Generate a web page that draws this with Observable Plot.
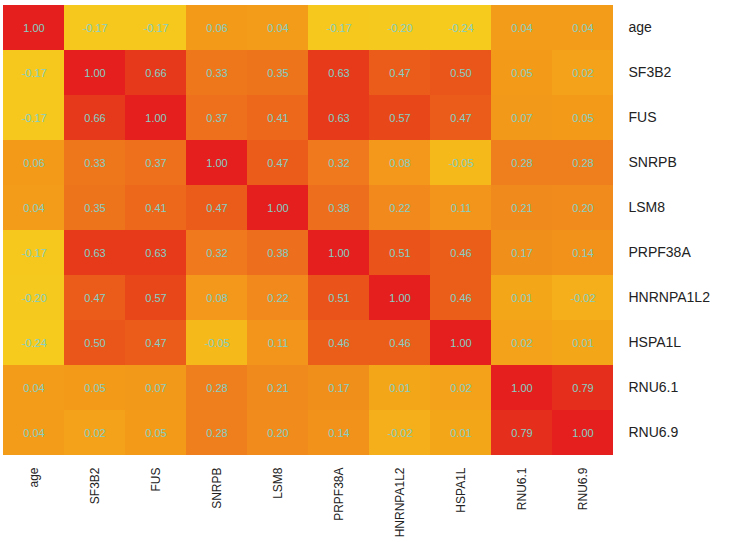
<!DOCTYPE html>
<html>
<head>
<meta charset="utf-8">
<script src="https://cdn.jsdelivr.net/npm/d3@7"></script>
<script src="https://cdn.jsdelivr.net/npm/@observablehq/plot@0.6"></script>
<style>
  html, body { margin: 0; padding: 0; background: #fff; }
  #chart svg { font-family: "Liberation Sans", Arial, sans-serif; display: block; }
</style>
</head>
<body>
<div id="chart"></div>
<script>
const variables = ["age", "SF3B2", "FUS", "SNRPB", "LSM8", "PRPF38A", "HNRNPA1L2", "HSPA1L", "RNU6.1", "RNU6.9"];

const corrAge       = [1.00, -0.17, -0.17, 0.06, 0.04, -0.17, -0.20, -0.24, 0.04, 0.04];
const corrSF3B2     = [-0.17, 1.00, 0.66, 0.33, 0.35, 0.63, 0.47, 0.50, 0.05, 0.02];
const corrFUS       = [-0.17, 0.66, 1.00, 0.37, 0.41, 0.63, 0.57, 0.47, 0.07, 0.05];
const corrSNRPB     = [0.06, 0.33, 0.37, 1.00, 0.47, 0.32, 0.08, -0.05, 0.28, 0.28];
const corrLSM8      = [0.04, 0.35, 0.41, 0.47, 1.00, 0.38, 0.22, 0.11, 0.21, 0.20];
const corrPRPF38A   = [-0.17, 0.63, 0.63, 0.32, 0.38, 1.00, 0.51, 0.46, 0.17, 0.14];
const corrHNRNPA1L2 = [-0.20, 0.47, 0.57, 0.08, 0.22, 0.51, 1.00, 0.46, 0.01, -0.02];
const corrHSPA1L    = [-0.24, 0.50, 0.47, -0.05, 0.11, 0.46, 0.46, 1.00, 0.02, 0.01];
const corrRNU61     = [0.04, 0.05, 0.07, 0.28, 0.21, 0.17, 0.01, 0.02, 1.00, 0.79];
const corrRNU69     = [0.04, 0.02, 0.05, 0.28, 0.20, 0.14, -0.02, 0.01, 0.79, 1.00];

const rows = [corrAge, corrSF3B2, corrFUS, corrSNRPB, corrLSM8, corrPRPF38A, corrHNRNPA1L2, corrHSPA1L, corrRNU61, corrRNU69];

const cells = [];
rows.forEach((r, i) => r.forEach((v, j) => cells.push({row: variables[i], col: variables[j], value: v})));

const colorDomain = [-0.24, -0.17, -0.05, 0.04, 0.2, 0.35, 0.47, 0.63, 1.0];
const colorRange = ["#f6cb1e", "#f6c81e", "#f5b91a", "#f39c19", "#f18c1c", "#ee741c", "#eb5c1a", "#e63a1a", "#e41f1d"];

const chart = Plot.plot({
  width: 749,
  height: 542,
  marginLeft: 3,
  marginRight: 136,
  marginTop: 2,
  marginBottom: 85,
  style: {fontFamily: "'Liberation Sans', Arial, sans-serif", background: "#fff"},
  x: {domain: variables, padding: 0, label: null},
  y: {domain: variables, padding: 0, label: null},
  color: {type: "linear", domain: colorDomain, range: colorRange, interpolate: "rgb"},
  marks: [
    Plot.cell(cells, {x: "col", y: "row", fill: "value", inset: 0}),
    Plot.text(cells, {x: "col", y: "row", text: d => d.value.toFixed(2), fill: "#84d0c6", fontSize: 11}),
    Plot.axisY({anchor: "right", tickSize: 0, tickPadding: 15, fontSize: 14, color: "#222", label: null}),
    Plot.axisX({anchor: "bottom", tickSize: 0, tickPadding: 10, tickRotate: -90, fontSize: 12, color: "#222", label: null})
  ]
});
document.getElementById("chart").appendChild(chart);
</script>
</body>
</html>
